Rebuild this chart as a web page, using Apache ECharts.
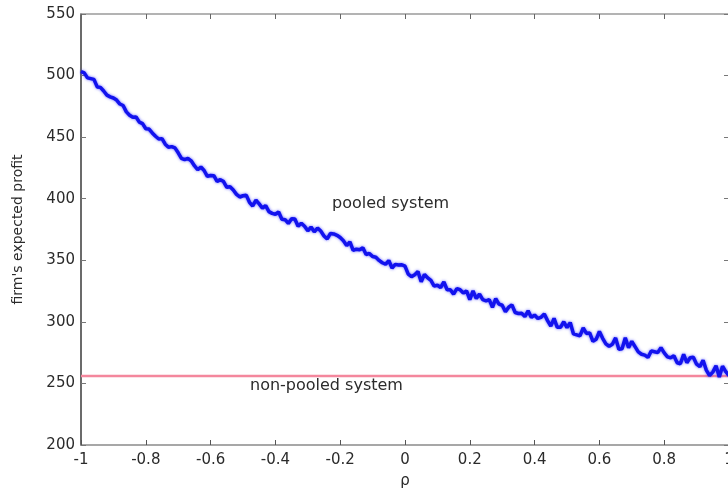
<!DOCTYPE html>
<html>
<head>
<meta charset="utf-8">
<script src="https://cdn.jsdelivr.net/npm/echarts@6/dist/echarts.min.js"></script>
<style>
  html, body { margin: 0; padding: 0; background: #fff; }
  #chart { width: 728px; height: 492px; }
</style>
</head>
<body>
<div id="chart"></div>
<script>
// rho samples (x axis)
const rho = [
  -1.00, -0.99, -0.98, -0.97, -0.96, -0.95, -0.94, -0.93, -0.92, -0.91,
  -0.90, -0.89, -0.88, -0.87, -0.86, -0.85, -0.84, -0.83, -0.82, -0.81,
  -0.80, -0.79, -0.78, -0.77, -0.76, -0.75, -0.74, -0.73, -0.72, -0.71,
  -0.70, -0.69, -0.68, -0.67, -0.66, -0.65, -0.64, -0.63, -0.62, -0.61,
  -0.60, -0.59, -0.58, -0.57, -0.56, -0.55, -0.54, -0.53, -0.52, -0.51,
  -0.50, -0.49, -0.48, -0.47, -0.46, -0.45, -0.44, -0.43, -0.42, -0.41,
  -0.40, -0.39, -0.38, -0.37, -0.36, -0.35, -0.34, -0.33, -0.32, -0.31,
  -0.30, -0.29, -0.28, -0.27, -0.26, -0.25, -0.24, -0.23, -0.22, -0.21,
  -0.20, -0.19, -0.18, -0.17, -0.16, -0.15, -0.14, -0.13, -0.12, -0.11,
  -0.10, -0.09, -0.08, -0.07, -0.06, -0.05, -0.04, -0.03, -0.02, -0.01,
  0.00, 0.01, 0.02, 0.03, 0.04, 0.05, 0.06, 0.07, 0.08, 0.09,
  0.10, 0.11, 0.12, 0.13, 0.14, 0.15, 0.16, 0.17, 0.18, 0.19,
  0.20, 0.21, 0.22, 0.23, 0.24, 0.25, 0.26, 0.27, 0.28, 0.29,
  0.30, 0.31, 0.32, 0.33, 0.34, 0.35, 0.36, 0.37, 0.38, 0.39,
  0.40, 0.41, 0.42, 0.43, 0.44, 0.45, 0.46, 0.47, 0.48, 0.49,
  0.50, 0.51, 0.52, 0.53, 0.54, 0.55, 0.56, 0.57, 0.58, 0.59,
  0.60, 0.61, 0.62, 0.63, 0.64, 0.65, 0.66, 0.67, 0.68, 0.69,
  0.70, 0.71, 0.72, 0.73, 0.74, 0.75, 0.76, 0.77, 0.78, 0.79,
  0.80, 0.81, 0.82, 0.83, 0.84, 0.85, 0.86, 0.87, 0.88, 0.89,
  0.90, 0.91, 0.92, 0.93, 0.94, 0.95, 0.96, 0.97, 0.98, 0.99,
  1.00
];

// pooled system: simulated expected profit (noisy band)
const pooledProfit = [
  503.3, 502.2, 498.1, 497.5, 496.9, 490.8, 490.4, 487.5, 484.1, 482.7,
  481.8, 480.1, 476.9, 475.7, 470.5, 467.8, 466.1, 466.4, 462.2, 461,
  456.8, 456.6, 453.4, 450.7, 448.5, 448.8, 444.3, 441.8, 442.3, 441.3,
  437.3, 432.8, 431.8, 432.8, 430.8, 426.8, 423.5, 425.7, 422.9, 418.1,
  418.8, 418.7, 414.1, 415.5, 413.9, 409.3, 409.7, 407.1, 403.5, 401.4,
  402.4, 402.9, 397.1, 394.1, 398.8, 395.8, 392.3, 394.4, 389.5, 388.1,
  387.4, 389.2, 383.3, 383, 379.9, 383.8, 383.5, 377.6, 380.1, 377.7,
  373.9, 377, 373.1, 376.2, 373.7, 369.8, 367.3, 371.8, 371.4, 370.3,
  368.5, 365.9, 361.9, 364.9, 358.1, 359, 358.5, 360.1, 354.7, 355.6,
  353, 352.5, 349.9, 348, 346.8, 349.8, 343.7, 346.7, 346.2, 346.4,
  345.2, 338.7, 336.7, 338.3, 340.8, 332.5, 338.6, 335.7, 333.7, 329,
  329.7, 327.9, 332.4, 326.1, 326.1, 322.5, 327, 326.1, 323.4, 325.2,
  318, 325.2, 318.9, 322.5, 318, 317.1, 318, 311.7, 318.9, 314.4,
  313.5, 308.2, 311.9, 313.8, 307.6, 306.8, 306.9, 304.3, 308.9, 303.6,
  305.5, 302.8, 303.7, 306.4, 301, 296.5, 302.8, 295.6, 295.6, 300.1,
  295.4, 299.4, 290.2, 289.4, 288.6, 295, 290.6, 291, 284.2, 285.8,
  292.2, 286.6, 282.2, 280.2, 281.8, 287, 277.8, 278.2, 287, 279,
  284.2, 279.9, 275.6, 273.7, 273, 271.1, 276.4, 275.7, 275, 279.1,
  274.8, 271.6, 270.8, 272.4, 266.8, 266, 273.6, 266.8, 270.8, 271.2,
  265.6, 263.6, 268.8, 260.8, 256.4, 259.2, 264.4, 255.2, 264, 259.6,
  256.4
];

// non-pooled system: constant profit
const nonPooledRho = [-1, 1];
const nonPooledProfit = [256, 256];

const yTicks = [200, 250, 300, 350, 400, 450, 500, 550];

const chart = echarts.init(document.getElementById("chart"));

const labelFont = { fontFamily: "DejaVu Sans", fontSize: 15, color: "#2b2b2b" };

chart.setOption({
  animation: false,
  grid: { left: 81, top: 14, width: 648, height: 431, outerBoundsMode: "none", containLabel: false },
  xAxis: [
    {
      type: "value",
      min: -1,
      max: 1,
      interval: 0.2,
      position: "bottom",
      name: "ρ",
      nameLocation: "middle",
      nameGap: 29,
      nameTextStyle: { fontFamily: "DejaVu Sans", fontSize: 15, color: "#2b2b2b" },
      axisLine: { show: true, onZero: false, lineStyle: { color: "#8a8a8a", width: 1.5 } },
      axisTick: { show: true, inside: true, length: 5, lineStyle: { color: "#555" } },
      axisLabel: Object.assign({ margin: 8 }, labelFont),
      splitLine: { show: false },
    },
    {
      type: "value",
      min: -1,
      max: 1,
      interval: 0.2,
      position: "top",
      axisLine: { show: true, onZero: false, lineStyle: { color: "#9a9a9a", width: 1.5 } },
      axisTick: { show: true, inside: true, length: 5, lineStyle: { color: "#666" } },
      axisLabel: { show: false },
      splitLine: { show: false },
    },
  ],
  yAxis: [
    {
      type: "value",
      min: yTicks[0],
      max: yTicks[yTicks.length - 1],
      interval: 50,
      position: "left",
      name: "firm's expected profit",
      nameLocation: "middle",
      nameGap: 56,
      nameRotate: 90,
      nameTextStyle: { fontFamily: "DejaVu Sans", fontSize: 14, color: "#2b2b2b" },
      axisLine: { show: true, onZero: false, lineStyle: { color: "#3a3a3a", width: 1.5 } },
      axisTick: { show: true, inside: true, length: 5, lineStyle: { color: "#777" } },
      axisLabel: Object.assign({ margin: 6 }, labelFont),
      splitLine: { show: false },
    },
    {
      type: "value",
      min: yTicks[0],
      max: yTicks[yTicks.length - 1],
      interval: 50,
      position: "right",
      axisLine: { show: true, onZero: false, lineStyle: { color: "#9a9a9a", width: 1.5 } },
      axisTick: { show: true, inside: true, length: 5, lineStyle: { color: "#777" } },
      axisLabel: { show: false },
      splitLine: { show: false },
    },
  ],
  series: [
    {
      name: "non-pooled system",
      type: "line",
      data: nonPooledRho.map((r, i) => [r, nonPooledProfit[i]]),
      showSymbol: false,
      lineStyle: { color: "#f4879d", width: 2.5 },
    },
    {
      name: "pooled system",
      type: "line",
      data: rho.map((r, i) => [r, pooledProfit[i]]),
      showSymbol: false,
      lineStyle: {
        color: "#1212ee",
        width: 3.5,
        shadowColor: "rgba(30, 30, 255, 0.7)",
        shadowBlur: 3,
      },
    },
  ],
  graphic: [
    {
      type: "text",
      left: 332,
      top: 196,
      style: { text: "pooled system", fontFamily: "DejaVu Sans", fontSize: 16, fill: "#2b2b2b" },
    },
    {
      type: "text",
      left: 250,
      top: 378,
      style: { text: "non-pooled system", fontFamily: "DejaVu Sans", fontSize: 16, fill: "#2b2b2b" },
    },
  ],
});
</script>
</body>
</html>
